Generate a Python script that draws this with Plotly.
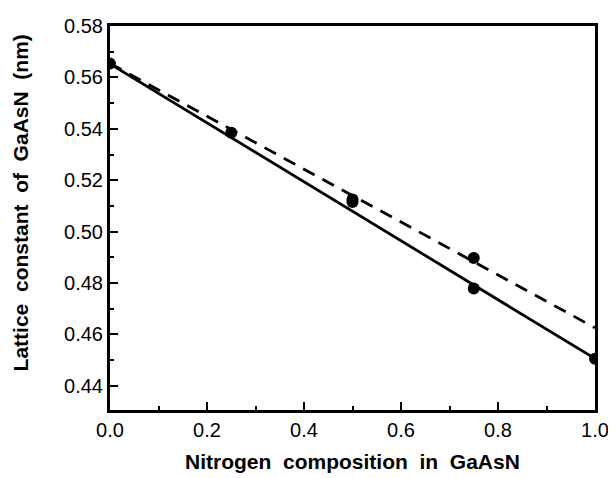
import plotly.graph_objects as go

# Data
x_points = [0.0, 0.25, 0.5, 0.5, 0.75, 0.75, 1.0]
y_points = [0.5654, 0.5385, 0.5115, 0.5125, 0.4897, 0.4778, 0.4505]

x_solid = [0.0, 1.0]
y_solid = [0.5653, 0.4505]

x_dash = [0.0, 1.0]
y_dash = [0.5655, 0.4625]

x_ticks = [0.0, 0.2, 0.4, 0.6, 0.8, 1.0]
x_tick_labels = ["0.0", "0.2", "0.4", "0.6", "0.8", "1.0"]
y_ticks = [0.44, 0.46, 0.48, 0.50, 0.52, 0.54, 0.56, 0.58]
y_tick_labels = ["0.44", "0.46", "0.48", "0.50", "0.52", "0.54", "0.56", "0.58"]

x_title = "Nitrogen  composition  in  GaAsN"
y_title = "Lattice  constant  of  GaAsN  (nm)"

fig = go.Figure()
fig.add_trace(go.Scatter(x=x_dash, y=y_dash, mode="lines",
                         line=dict(color="black", width=2.8, dash="13px,9px"),
                         showlegend=False))
fig.add_trace(go.Scatter(x=x_solid, y=y_solid, mode="lines",
                         line=dict(color="black", width=2.8),
                         showlegend=False))
fig.add_trace(go.Scatter(x=x_points, y=y_points, mode="markers",
                         marker=dict(color="black", size=12),
                         showlegend=False))

font_family = "Liberation Sans, Arial, sans-serif"
# page body has an 8px default margin, so the figure is 8px smaller and offset
fig.update_layout(
    width=608, height=470,
    margin=dict(l=102, r=16, t=7, b=68),
    plot_bgcolor="white", paper_bgcolor="white",
    font=dict(family=font_family, color="black", size=20),
    xaxis=dict(
        range=[0.0, 1.0], tickvals=x_ticks, ticktext=x_tick_labels,
        ticks="inside", ticklen=8, tickwidth=2, tickcolor="black",
        showline=True, linewidth=3, linecolor="black", mirror=True,
        showgrid=False, zeroline=False, ticklabeloverflow="allow",
        minor=dict(ticks="inside", dtick=0.1, ticklen=4, tickwidth=2, tickcolor="black"),
        tickfont=dict(size=20),
    ),
    yaxis=dict(
        range=[0.4305, 0.58005], tickvals=y_ticks, ticktext=y_tick_labels,
        ticks="inside", ticklen=8, tickwidth=2, tickcolor="black",
        showline=True, linewidth=3, linecolor="black", mirror=True,
        showgrid=False, zeroline=False, ticklabeloverflow="allow",
        minor=dict(ticks="inside", dtick=0.01, ticklen=4, tickwidth=2, tickcolor="black"),
        tickfont=dict(size=20),
    ),
    annotations=[
        dict(text="<b>" + x_title + "</b>", xref="paper", yref="paper",
             x=0.5, y=-0.134, xanchor="center", yanchor="middle",
             showarrow=False, font=dict(size=21)),
        dict(text="<b>" + y_title + "</b>", xref="paper", yref="paper",
             x=-0.184, y=0.54, xanchor="center", yanchor="middle",
             textangle=-90, showarrow=False, font=dict(size=21)),
    ],
)

fig.write_html("out.html")
